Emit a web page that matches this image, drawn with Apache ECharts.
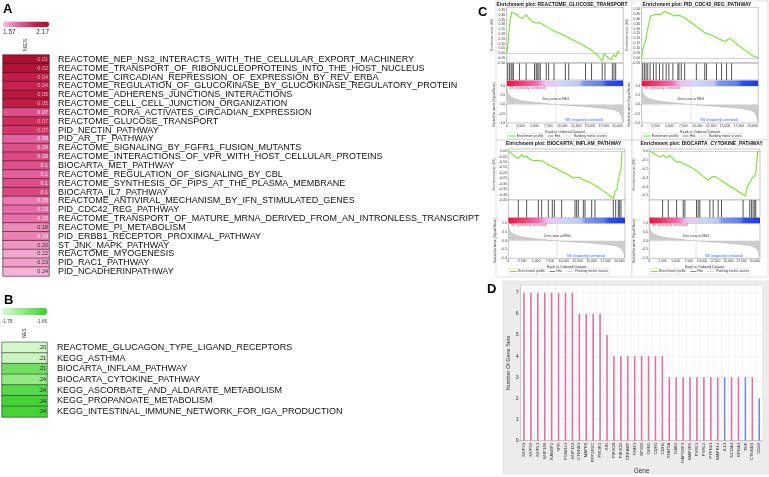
<!DOCTYPE html>
<html><head><meta charset="utf-8">
<script src="https://cdn.jsdelivr.net/npm/echarts@6/dist/echarts.min.js"></script>
<style>html,body{margin:0;padding:0;background:#fff}#c{width:769px;height:477px}</style>
</head><body><div id="c"></div><script>
const FONT = '"Liberation Sans", Arial, Helvetica, sans-serif';

// ---------- Panel A data ----------
const pathwaysA = [
 'REACTOME_NEP_NS2_INTERACTS_WITH_THE_CELLULAR_EXPORT_MACHINERY',
 'REACTOME_TRANSPORT_OF_RIBONUCLEOPROTEINS_INTO_THE_HOST_NUCLEUS',
 'REACTOME_CIRCADIAN_REPRESSION_OF_EXPRESSION_BY_REV_ERBA',
 'REACTOME_REGULATION_OF_GLUCOKINASE_BY_GLUCOKINASE_REGULATORY_PROTEIN',
 'REACTOME_ADHERENS_JUNCTIONS_INTERACTIONS',
 'REACTOME_CELL_CELL_JUNCTION_ORGANIZATION',
 'REACTOME_RORA_ACTIVATES_CIRCADIAN_EXPRESSION',
 'REACTOME_GLUCOSE_TRANSPORT',
 'PID_NECTIN_PATHWAY',
 'PID_AR_TF_PATHWAY',
 'REACTOME_SIGNALING_BY_FGFR1_FUSION_MUTANTS',
 'REACTOME_INTERACTIONS_OF_VPR_WITH_HOST_CELLULAR_PROTEINS',
 'BIOCARTA_MET_PATHWAY',
 'REACTOME_REGULATION_OF_SIGNALING_BY_CBL',
 'REACTOME_SYNTHESIS_OF_PIPS_AT_THE_PLASMA_MEMBRANE',
 'BIOCARTA_IL7_PATHWAY',
 'REACTOME_ANTIVIRAL_MECHANISM_BY_IFN_STIMULATED_GENES',
 'PID_CDC42_REG_PATHWAY',
 'REACTOME_TRANSPORT_OF_MATURE_MRNA_DERIVED_FROM_AN_INTRONLESS_TRANSCRIPT',
 'REACTOME_PI_METABOLISM',
 'PID_ERBB1_RECEPTOR_PROXIMAL_PATHWAY',
 'ST_JNK_MAPK_PATHWAY',
 'REACTOME_MYOGENESIS',
 'PID_RAC1_PATHWAY',
 'PID_NCADHERINPATHWAY'
];
const fdrA = ['0.01','0.02','0.04','0.04','0.05','0.05','0.07','0.07','0.07','0.09','0.09','0.09','0.1','0.1','0.1','0.1','0.15','0.15','0.15','0.18','0.19','0.20','0.22','0.23','0.24'];
const nesA = [2.15,2.12,2.02,2.00,2.08,2.04,1.84,1.95,1.92,1.78,1.84,1.86,1.83,1.79,1.84,1.86,1.73,1.76,1.75,1.69,1.71,1.66,1.62,1.64,1.60];
const nesRangeA = [1.57, 2.17];

// ---------- Panel B data ----------
const pathwaysB = [
 'REACTOME_GLUCAGON_TYPE_LIGAND_RECEPTORS',
 'KEGG_ASTHMA',
 'BIOCARTA_INFLAM_PATHWAY',
 'BIOCARTA_CYTOKINE_PATHWAY',
 'KEGG_ASCORBATE_AND_ALDARATE_METABOLISM',
 'KEGG_PROPANOATE_METABOLISM',
 'KEGG_INTESTINAL_IMMUNE_NETWORK_FOR_IGA_PRODUCTION'
];
const fdrB = ['.20','.21','.21','.24','.24','.24','.24'];
const nesB = [-1.745,-1.74,-1.69,-1.71,-1.675,-1.665,-1.665];
const nesRangeB = [-1.75, -1.66];

// ---------- Panel C data (GSEA) ----------
const rankMax = 21000;
const rankTicks = 2500;
const zeroCross = 8804;
const esGlucose = [[0,0],[181,0.06],[362,0.20],[604,0.34],[906,0.43],[1268,0.42],[1691,0.41],[2295,0.38],[2899,0.36],[3201,0.35],[3503,0.40],[4107,0.36],[4711,0.325],[5315,0.315],[5919,0.32],[6523,0.30],[7429,0.27],[8637,0.23],[9845,0.20],[11053,0.165],[12865,0.11],[14073,0.075],[15281,0.03],[15885,0.005],[16489,-0.03],[17214,-0.085],[17516,-0.007],[18301,-0.05],[18905,-0.068],[19268,-0.014],[19630,-0.04],[19993,0.02],[20300,0.005]];
const hitsGlucose = [181,483,785,966,1208,2295,3503,5013,5315,5496,5798,6040,7127,7550,8516,10570,11174,14194,15281,17214,17697,19026,19328,19630];
const esCdc42 = [[0,0],[181,0.083],[423,0.10],[664,0.167],[906,0.25],[1148,0.317],[1389,0.39],[1691,0.433],[1993,0.417],[2295,0.443],[2597,0.43],[3020,0.45],[3382,0.44],[3805,0.467],[4168,0.477],[4711,0.46],[5315,0.45],[5919,0.43],[6523,0.437],[7127,0.43],[8033,0.397],[9241,0.35],[10449,0.297],[11355,0.257],[11657,0.273],[12261,0.243],[13167,0.217],[14073,0.19],[14979,0.167],[15402,0.183],[15885,0.20],[16610,0.167],[17697,0.117],[18905,0.067],[20113,0.017],[21000,0.0]];
const hitsCdc42 = [181,483,785,1087,1510,2114,2597,3201,3805,4409,4892,5617,6523,6704,7127,7731,9845,11355,11657,13469,14375,15281,16187];
const esInflam = [[0,0],[600,-0.022],[1200,-0.047],[1800,-0.069],[2100,-0.075],[2400,-0.031],[2880,-0.056],[3300,-0.047],[3900,-0.075],[4500,-0.0875],[4800,-0.075],[5400,-0.084],[6300,-0.094],[7200,-0.125],[8400,-0.156],[9600,-0.1875],[10800,-0.219],[11700,-0.244],[12000,-0.2375],[12900,-0.24],[13500,-0.266],[14700,-0.2875],[15900,-0.325],[17100,-0.366],[18300,-0.4125],[18900,-0.4375],[19200,-0.375],[19560,-0.35],[19800,-0.2625],[20040,-0.25],[20280,-0.1625],[20460,0.0]];
const hitsInflam = [1800,3300,5400,6000,7200,7920,8280,9600,12000,12300,12600,13500,13800,15000,15600,18900,19320,19800,20040,20280];
const esCytokine = [[0,0],[757,-0.025],[1388,-0.05],[2019,-0.071],[2335,-0.089],[2650,-0.05],[3281,-0.079],[3597,-0.057],[3912,-0.05],[4417,-0.086],[5174,-0.129],[5805,-0.121],[6436,-0.143],[7383,-0.168],[8960,-0.221],[10222,-0.286],[11169,-0.329],[11484,-0.318],[11800,-0.293],[12431,-0.286],[13062,-0.311],[14324,-0.357],[15901,-0.418],[17794,-0.489],[18236,-0.507],[18551,-0.407],[19056,-0.357],[19434,-0.311],[19876,-0.286],[20192,-0.257],[20570,0.0]];
const hitsCytokine = [2524,3597,5174,6436,6752,8960,9276,9591,11484,12115,13062,13693,17794,19056,19371,19687,20003,20192];
const rankedMetric = [[0,0.95],[100,0.7],[300,0.55],[700,0.42],[1500,0.3],[2500,0.22],[4000,0.15],[6000,0.08],[8804,0],[11000,-0.05],[13500,-0.1],[16000,-0.16],[18000,-0.22],[19500,-0.3],[20300,-0.42],[20700,-0.6],[20950,-0.95]];

// ---------- Panel D data ----------
const genes = ['NUP43','NUP50','NUPL1','NUP188','RANBP2','TPR','POM121','NUP153','CTNNB1','MAPK8','PPP1R1C','PIK3R1','JUN','PIK3CB','PIK3CD','CREBBP','STAT3','EP300','GRB2','CDH1','CDH2','STAT5A','GAB1','RAPGEF1','MAP2K6','PVRL3','PVRL2','PTPN11','MAPK14','IL13','NCOA1','KPNA1','TNF','CTNND1','CD40'];
const geneSetCounts = [7,7,7,7,7,7,7,7,6,6,6,6,5,4,4,4,4,4,4,4,4,3,3,3,3,3,3,3,3,3,3,3,3,3,2];
const geneDirection = ['up','up','up','up','up','up','up','up','up','up','up','up','up','up','up','up','up','up','up','up','up','up','up','up','up','up','up','up','up','down','up','up','down','up','down'];

// ---------- build ----------
const grids = [], xAxes = [], yAxes = [], series = [], graphics = [], vms = [];
function addGrid(x, y, w, h, extra) {
  grids.push(Object.assign({left:x, top:y, width:w, height:h, containLabel:false}, extra || {}));
  return grids.length - 1;
}
function txt(x, y, s, o) {
  const st = Object.assign({text:s, fontFamily:FONT, fontSize:4, fill:'#222', align:'left', verticalAlign:'middle'}, o || {});
  const rot = st.rot || 0; delete st.rot;
  graphics.push({type:'text', x:x, y:y, z:100, silent:true, rotation:rot, style:st});
}
function line(x1, y1, x2, y2, color, w) {
  graphics.push({type:'line', z:100, silent:true, shape:{x1:x1, y1:y1, x2:x2, y2:y2}, style:{stroke:color, lineWidth:w}});
}
const onStep = (v, step) => Math.abs(v / step - Math.round(v / step)) < 1e-6;

// Panel A
txt(3, 9, 'A', {fontSize:13, fontWeight:'bold', fill:'#000'});
txt(3, 32.5, '1.57', {fontSize:6.5, fill:'#333'});
txt(49, 32.5, '2.17', {fontSize:6.5, fill:'#333', align:'right'});
txt(25.5, 45, 'NES', {fontSize:6, fill:'#333', align:'center', rot:Math.PI/2});
const gA = addGrid(3, 55, 46, 221);
xAxes.push({gridIndex:gA, type:'category', data:['NES'], show:false});
yAxes.push({gridIndex:gA, type:'category', data:pathwaysA, inverse:true, position:'right',
  axisLine:{show:false}, axisTick:{show:false},
  axisLabel:{margin:9, fontSize:9, color:'#111', interval:0, fontFamily:FONT}});
series.push({type:'heatmap', xAxisIndex:xAxes.length-1, yAxisIndex:yAxes.length-1, silent:true,
  data: nesA.map((v, i) => ({value:[0, i, v], label:{color: v >= 1.9 ? '#dcb4bf' : (v >= 1.7 ? '#f6eef2' : '#333')}})),
  itemStyle:{borderColor:'#3a1a20', borderWidth:0.6},
  label:{show:true, position:'insideRight', distance:1.5, fontSize:5.5, fontFamily:FONT,
    formatter: p => fdrA[p.dataIndex]},
  emphasis:{disabled:true}});
vms.push({type:'continuous', seriesIndex:series.length-1, dimension:2, min:nesRangeA[0], max:nesRangeA[1],
  orient:'horizontal', left:3, top:21.5, itemWidth:5.5, itemHeight:46, padding:0, calculable:false, show:true,
  inRange:{color:['#f6bedc','#e466a4','#cc2454','#a80e2c']}});

// Panel B
txt(4, 300, 'B', {fontSize:13, fontWeight:'bold', fill:'#000'});
txt(2, 321.5, '-1.75', {fontSize:4.5, fill:'#333'});
txt(47, 321.5, '-1.66', {fontSize:4.5, fill:'#333', align:'right'});
txt(25, 333, 'NES', {fontSize:4.5, fill:'#333', align:'center', rot:Math.PI/2});
const gB = addGrid(2, 342.3, 45, 74.7);
xAxes.push({gridIndex:gB, type:'category', data:['NES'], show:false});
yAxes.push({gridIndex:gB, type:'category', data:pathwaysB, inverse:true, position:'right',
  axisLine:{show:false}, axisTick:{show:false},
  axisLabel:{margin:10, fontSize:9, color:'#111', interval:0, fontFamily:FONT}});
series.push({type:'heatmap', xAxisIndex:xAxes.length-1, yAxisIndex:yAxes.length-1, silent:true,
  data: nesB.map((v, i) => [0, i, v]),
  itemStyle:{borderColor:'#2a3a2a', borderWidth:0.6},
  label:{show:true, position:'insideRight', distance:1.5, fontSize:5.5, color:'#222', fontFamily:FONT,
    formatter: p => fdrB[p.dataIndex]},
  emphasis:{disabled:true}});
vms.push({type:'continuous', seriesIndex:series.length-1, dimension:2, min:nesRangeB[0], max:nesRangeB[1],
  orient:'horizontal', left:2, top:308, itemWidth:7, itemHeight:45, padding:0, calculable:false, show:true,
  inRange:{color:['#dcf8d4','#8ae87a','#3cce30']}});

// Panel C
txt(478, 12, 'C', {fontSize:13, fontWeight:'bold', fill:'#000'});
const cbarStops = [
  {offset:0, color:'#f0123e'},{offset:0.12, color:'#f03a6e'},{offset:0.26, color:'#f070b4'},
  {offset:0.33, color:'#eec0f0'},{offset:0.44, color:'#e0cdf4'},{offset:0.47, color:'#cdd6f6'},
  {offset:0.62, color:'#bcc8f2'},{offset:0.66, color:'#7f98ec'},{offset:0.82, color:'#5f7eec'},
  {offset:0.86, color:'#3050f0'},{offset:1, color:'#2038e8'}];
const axisFont = 3.4;
function gsea(p) {
  const w = p.x1 - p.x0;
  const cx = (p.x0 + p.x1) / 2;
  graphics.push({type:'rect', z:-5, silent:true, shape:{x:p.frame[0], y:p.frame[1], width:p.frame[2], height:p.frame[3]},
    style:{fill:'#fff', stroke:'#cfcfcf', lineWidth:0.6}});
  txt(cx - 3, p.titleY, p.title, {fontSize:5, fontWeight:'bold', align:'center', fill:'#111'});
  const border = {show:true, borderColor:'#8c8c8c', borderWidth:0.5, backgroundColor:'#fff'};
  // ES
  const gE = addGrid(p.x0, p.es[0], w, p.es[1] - p.es[0], border);
  xAxes.push({gridIndex:gE, type:'value', min:0, max:rankMax, show:false});
  yAxes.push({gridIndex:gE, type:'value', min:p.esMin, max:p.esMax, interval:p.esInt,
    name:'Enrichment score (ES)', nameLocation:'middle', nameGap:p.nameGap,
    nameTextStyle:{fontSize:3.2, color:'#444', fontFamily:FONT},
    axisLine:{show:false}, axisTick:{show:true, length:1, lineStyle:{color:'#777', width:0.4}},
    splitLine:{show:false},
    axisLabel:{fontSize:axisFont, margin:1.5, color:'#333', fontFamily:FONT, formatter:p.esFmt}});
  series.push({type:'line', xAxisIndex:xAxes.length-1, yAxisIndex:yAxes.length-1, data:p.esData,
    showSymbol:false, silent:true, lineStyle:{color:'#7ddc3a', width:1.1},
    markLine:{silent:true, symbol:'none', label:{show:false}, animation:false,
      lineStyle:{color:'#a8a8a8', width:0.5, type:'solid'}, data:[{yAxis:0}]}});
  // hits
  const gH = addGrid(p.x0, p.hits[0], w, p.hits[1] - p.hits[0], border);
  xAxes.push({gridIndex:gH, type:'value', min:0, max:rankMax, show:false});
  yAxes.push({gridIndex:gH, type:'value', min:0, max:1, show:false});
  series.push({type:'bar', xAxisIndex:xAxes.length-1, yAxisIndex:yAxes.length-1, silent:true,
    data:p.hitData.map(r => [r, 1]), barWidth:0.55, itemStyle:{color:'#555'}});
  // colour bar
  graphics.push({type:'rect', z:50, silent:true, shape:{x:p.x0, y:p.cb[0], width:w, height:p.cb[1] - p.cb[0]},
    style:{fill:{type:'linear', x:0, y:0, x2:1, y2:0, colorStops:cbarStops}}});
  // ranked metric
  const gR = addGrid(p.x0, p.rk[0], w, p.rk[1] - p.rk[0], border);
  xAxes.push({gridIndex:gR, type:'value', min:0, max:rankMax, interval:rankTicks,
    name:'Rank in Ordered Dataset', nameLocation:'middle', nameGap:7,
    nameTextStyle:{fontSize:3.6, color:'#333', fontFamily:FONT},
    axisLine:{show:false}, axisTick:{show:true, length:1, lineStyle:{color:'#777', width:0.4}},
    splitLine:{show:false},
    axisLabel:{fontSize:axisFont, margin:1.5, color:'#333', fontFamily:FONT, showMaxLabel:false,
      formatter: v => onStep(v, rankTicks) ? v.toLocaleString('en-US') : ''}});
  yAxes.push({gridIndex:gR, type:'value', min:-1, max:1, interval:0.5,
    name:'Ranked list metric (Signal2Noise)', nameLocation:'middle', nameGap:p.nameGap,
    nameTextStyle:{fontSize:3.0, color:'#444', fontFamily:FONT},
    axisLine:{show:false}, axisTick:{show:true, length:1, lineStyle:{color:'#777', width:0.4}},
    splitLine:{show:false},
    axisLabel:{fontSize:axisFont, margin:1.5, color:'#333', fontFamily:FONT, formatter: v => v.toFixed(1)}});
  series.push({type:'line', xAxisIndex:xAxes.length-1, yAxisIndex:yAxes.length-1, data:rankedMetric,
    showSymbol:false, silent:true, lineStyle:{color:'#9a9a9a', width:0.4}, areaStyle:{color:'#b8b8b8'},
    markLine:{silent:true, symbol:'none', label:{show:false}, animation:false,
      lineStyle:{color:'#9a9a9a', width:0.4, type:'dashed'}, data:[{xAxis:zeroCross}]}});
  const rh = p.rk[1] - p.rk[0];
  txt(p.x0 + 2, p.rk[0] + 2.2, "'NS' (positively correlated)", {fontSize:3.2, fill:'#e0305e'});
  txt(p.x0 + w * 0.42, p.rk[0] + rh * 0.36, 'Zero cross at ' + zeroCross, {fontSize:3.2, fill:'#333', align:'center'});
  txt(p.x0 + w * 0.5, p.rk[1] - 2.5, "'NS' (negatively correlated)", {fontSize:3.2, fill:'#3a5ae6'});
  // legend
  const ly = p.legendY, lx = p.x0;
  graphics.push({type:'rect', z:60, silent:true, shape:{x:lx, y:ly - 2.8, width:100, height:5.6},
    style:{fill:'#fff', stroke:'#bdbdbd', lineWidth:0.4}});
  line(lx + 1.5, ly, lx + 9, ly, '#7ddc3a', 1);
  txt(lx + 10, ly, 'Enrichment profile', {fontSize:3.3, fill:'#333'});
  line(lx + 41, ly, lx + 47, ly, '#333', 0.6);
  txt(lx + 48, ly, 'Hits', {fontSize:3.3, fill:'#333'});
  line(lx + 58, ly, lx + 65, ly, '#bbbbbb', 0.6);
  txt(lx + 67, ly, 'Ranking metric scores', {fontSize:3.3, fill:'#333'});
}
const f2 = v => onStep(v, 0.05) ? v.toFixed(2) : '';
const f1 = v => onStep(v, 0.1) ? v.toFixed(1) : '';
gsea({title:'Enrichment plot: REACTOME_GLUCOSE_TRANSPORT', x0:506.7, x1:623.3, titleY:4.5,
  es:[7.3, 62.7], hits:[63.3, 80], cb:[80.5, 86], rk:[86, 123], legendY:136, frame:[496, 1, 136, 139],
  esMin:-0.1, esMax:0.48, esInt:0.05, esFmt:f2, esData:esGlucose, hitData:hitsGlucose, nameGap:8});
gsea({title:'Enrichment plot: PID_CDC42_REG_PATHWAY', x0:641.7, x1:758.3, titleY:4.5,
  es:[7.3, 62.7], hits:[63.3, 80], cb:[80.5, 86], rk:[86, 123], legendY:136, frame:[632, 1, 136, 139],
  esMin:-0.05, esMax:0.52, esInt:0.05, esFmt:f2, esData:esCdc42, hitData:hitsCdc42, nameGap:8.5});
gsea({title:'Enrichment plot: BIOCARTA_INFLAM_PATHWAY', x0:508.3, x1:625, titleY:143.3,
  es:[149, 200], hits:[200, 217.7], cb:[217.7, 223.3], rk:[223.3, 258.3], legendY:271.5, frame:[496, 140, 136, 137],
  esMin:-0.45, esMax:0.02, esInt:0.05, esFmt:f2, esData:esInflam, hitData:hitsInflam, nameGap:10});
gsea({title:'Enrichment plot: BIOCARTA_CYTOKINE_PATHWAY', x0:649.3, x1:760, titleY:143.3,
  es:[149, 200], hits:[200, 217.7], cb:[217.7, 223.3], rk:[223.3, 258.3], legendY:271.5, frame:[632, 140, 136, 137],
  esMin:-0.55, esMax:0.02, esInt:0.05, esFmt:f1,
  esData:esCytokine, hitData:hitsCytokine, nameGap:14});

// Panel D
txt(487, 289.5, 'D', {fontSize:13, fontWeight:'bold', fill:'#000'});
graphics.push({type:'rect', z:-5, silent:true, shape:{x:503, y:281, width:266, height:193},
  style:{fill:'#ececec', stroke:'#d8d8d8', lineWidth:0.5}});
const gD = addGrid(520.5, 285.3, 242.2, 155.4, {show:true, backgroundColor:'#ffffff', borderColor:'#d4d4d4', borderWidth:0.5});
xAxes.push({gridIndex:gD, type:'category', data:genes,
  axisLabel:{rotate:90, fontSize:4.3, interval:0, margin:2, color:'#333', fontFamily:FONT},
  axisTick:{show:false}, axisLine:{lineStyle:{color:'#aaa', width:0.5}},
  splitLine:{show:true, interval:0, lineStyle:{color:'#efefef', width:0.6}},
  name:'Gene', nameLocation:'middle', nameGap:27, nameTextStyle:{fontSize:6.5, color:'#333', fontFamily:FONT}});
yAxes.push({gridIndex:gD, type:'value', min:0, max:7.35, interval:1,
  axisLabel:{fontSize:5, margin:2, color:'#333', fontFamily:FONT, showMaxLabel:false,
    formatter: v => onStep(v, 1) ? String(v) : ''},
  axisLine:{show:true, lineStyle:{color:'#aaa', width:0.5}},
  axisTick:{show:true, length:1.5, lineStyle:{color:'#aaa', width:0.5}},
  splitLine:{show:true, lineStyle:{color:'#e6e6e6', width:0.5}},
  name:'Number Of Gene Sets', nameLocation:'middle', nameGap:7, nameRotate:90,
  nameTextStyle:{fontSize:5.5, color:'#333', fontFamily:FONT}});
series.push({type:'bar', xAxisIndex:xAxes.length-1, yAxisIndex:yAxes.length-1, silent:true, barWidth:1.6,
  data: geneSetCounts.map((v, i) => ({value:v, itemStyle:{color: geneDirection[i] === 'down' ? '#6e8ee0' : '#e0709f'}}))});

const chart = echarts.init(document.getElementById('c'), null, {renderer:'canvas'});
chart.setOption({
  animation:false,
  backgroundColor:'#fff',
  textStyle:{fontFamily:FONT},
  grid:grids, xAxis:xAxes, yAxis:yAxes, series:series, visualMap:vms,
  graphic:{elements:graphics}
});
</script></body></html>
